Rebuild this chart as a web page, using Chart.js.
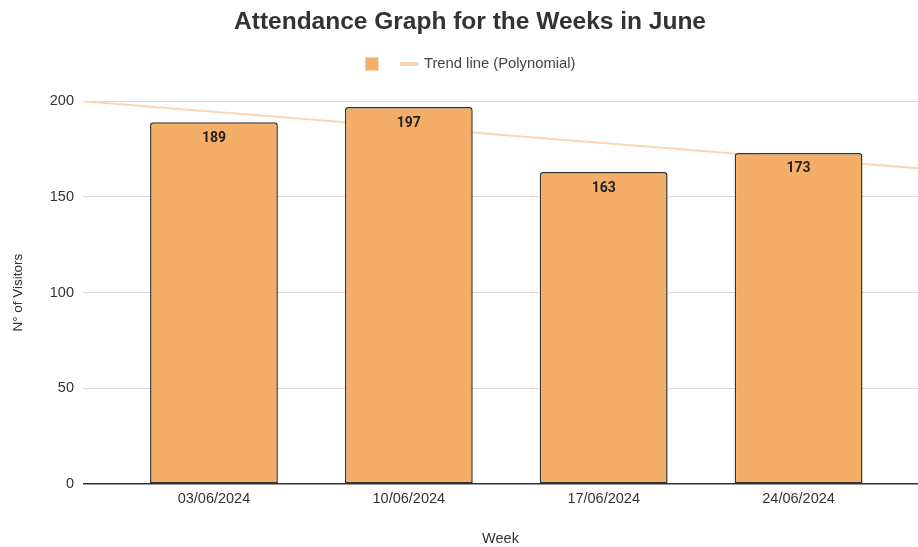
<!DOCTYPE html>
<html>
<head>
<meta charset="utf-8">
<script src="https://cdn.jsdelivr.net/npm/chart.js@4/dist/chart.umd.min.js"></script>
<style>
  html, body { margin: 0; padding: 0; background: #fff; }
  #wrap { width: 918px; height: 547px; }
</style>
</head>
<body>
<div id="wrap"><canvas id="chart"></canvas></div>
<script>
// weeks of June and the visitors counted each week
const weeks = ['03/06/2024', '10/06/2024', '17/06/2024', '24/06/2024'];
const visitors = [189, 197, 163, 173];

// trend line as drawn: ends at the left and right edges of the plot
const trendX = [-0.672, 3.613];
const trendY = [200, 165];

const yTicks = [0, 50, 100, 150, 200];

const barColor = '#F4AE67';
const trendColor = '#FAD6B4';
const font = 'Arial, "Liberation Sans", sans-serif';

// write the value inside the top of each bar
const barValues = {
  id: 'barValues',
  afterDatasetsDraw(chart) {
    const ctx = chart.ctx;
    const meta = chart.getDatasetMeta(0);
    ctx.save();
    ctx.font = 'bold 14px Roboto, sans-serif';
    ctx.fillStyle = '#222';
    ctx.textAlign = 'center';
    ctx.textBaseline = 'middle';
    meta.data.forEach((bar, i) => {
      ctx.fillText(visitors[i], bar.x, bar.y + 16);
    });
    ctx.restore();
  }
};

new Chart(document.getElementById('chart'), {
  data: {
    datasets: [
      {
        type: 'bar',
        label: '',
        data: visitors.map((v, i) => ({ x: i, y: v })),
        backgroundColor: barColor,
        borderColor: '#333',
        borderWidth: 1.5,
        borderSkipped: false,
        borderRadius: { topLeft: 3, topRight: 3 },
        categoryPercentage: 1,
        barPercentage: 0.656,
        order: 1
      },
      {
        type: 'line',
        label: 'Trend line (Polynomial)',
        data: trendX.map((x, i) => ({ x: x, y: trendY[i] })),
        borderColor: trendColor,
        borderWidth: 2,
        pointRadius: 0,
        order: 2
      }
    ]
  },
  options: {
    responsive: true,
    maintainAspectRatio: false,
    animation: false,
    // left padding moves the title and legend centre to the right
    layout: { padding: { left: 22, right: 0, top: 0, bottom: 0 } },
    plugins: {
      title: {
        display: true,
        text: 'Attendance Graph for the Weeks in June',
        color: '#333',
        font: { family: font, size: 24.5, weight: 'bold' },
        padding: { top: 7.7, bottom: 4.6 }
      },
      // empty spacer between the legend and the plot
      subtitle: {
        display: true,
        text: '',
        weight: 500,
        font: { size: 1, lineHeight: 1 },
        padding: { top: 18.8, bottom: 0 }
      },
      legend: {
        labels: {
          usePointStyle: true,
          boxHeight: 13,
          color: '#444',
          font: { family: font, size: 14.8 },
          padding: 15,
          generateLabels() {
            return [
              { text: '', fillStyle: barColor, strokeStyle: barColor, lineWidth: 0,
                pointStyle: 'rect', datasetIndex: 0, hidden: false },
              { text: 'Trend line (Polynomial)', fillStyle: trendColor, strokeStyle: trendColor,
                lineWidth: 4, pointStyle: 'line', datasetIndex: 1, hidden: false, fontColor: '#444' }
            ];
          }
        }
      },
      tooltip: { enabled: false }
    },
    scales: {
      x: {
        type: 'linear',
        offset: false,
        min: trendX[0],
        max: trendX[1],
        grid: { display: false, offset: false },
        border: { display: false },
        afterBuildTicks(scale) {
          scale.ticks = weeks.map((w, i) => ({ value: i }));
        },
        afterFit(scale) { scale.height = 63; },
        ticks: {
          color: '#333',
          font: { family: font, size: 14.5 },
          padding: -2,
          autoSkip: false,
          maxRotation: 0,
          callback: (v) => weeks[v]
        },
        title: {
          display: true,
          text: 'Week',
          color: '#333',
          font: { family: font, size: 14.5 },
          padding: { top: 0, bottom: -1 }
        }
      },
      y: {
        min: 0,
        max: 200,
        afterBuildTicks(scale) {
          scale.ticks = yTicks.map(v => ({ value: v }));
        },
        afterFit(scale) { scale.width = 61; },
        grid: {
          drawTicks: false,
          color: (c) => c.tick && c.tick.value === 0 ? '#333' : '#d9d9d9',
          lineWidth: (c) => c.tick && c.tick.value === 0 ? 1.5 : 1
        },
        border: { display: false },
        ticks: {
          color: '#333',
          font: { family: font, size: 14.5 },
          padding: 9
        },
        title: {
          display: true,
          text: 'N° of Visitors',
          color: '#333',
          font: { family: font, size: 13.5 },
          padding: { top: -12, bottom: 0 }
        }
      }
    }
  },
  plugins: [barValues]
});
</script>
</body>
</html>
